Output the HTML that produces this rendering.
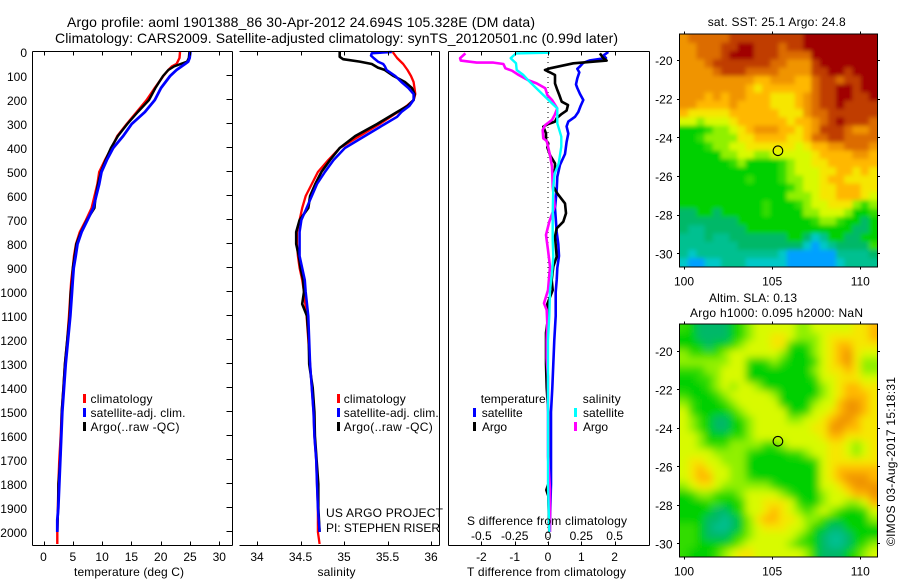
<!DOCTYPE html>
<html>
<head>
<meta charset="utf-8">
<title>Argo profile 1901388_86</title>
<style>
html,body{margin:0;padding:0;background:#fff}
svg{display:block}
text{font-family:"Liberation Sans",sans-serif;font-size:12px;fill:#000}
.title{font-size:14px}
</style>
</head>
<body>
<svg id="chart" xmlns="http://www.w3.org/2000/svg" width="900" height="580" viewBox="0 0 900 580">
<defs>
<clipPath id="clip-sst"><rect x="680" y="34.5" width="197" height="232"/></clipPath>
<clipPath id="clip-sla"><rect x="680" y="324.5" width="197" height="232"/></clipPath>
<filter id="blur-sst" filterUnits="userSpaceOnUse" x="650" y="0" width="250" height="300"><feGaussianBlur stdDeviation="2.2"/></filter>
<filter id="blur-sla" filterUnits="userSpaceOnUse" x="650" y="290" width="250" height="290"><feGaussianBlur stdDeviation="4"/></filter>
</defs>
<rect x="0" y="0" width="900" height="580" fill="#fff"/>
<g id="layer-maps"></g>
<g id="layer-lines"></g>
<g id="layer-axes"></g>

<text class="title" x="67" y="27" textLength="468">Argo profile: aoml 1901388_86 30-Apr-2012 24.694S 105.328E (DM data)</text>
<text class="title" x="55" y="43" textLength="563">Climatology: CARS2009. Satellite-adjusted climatology: synTS_20120501.nc (0.99d later)</text>

<text x="74" y="576" textLength="110">temperature (deg C)</text>
<text x="317.5" y="576" textLength="38">salinity</text>
<text x="467" y="576" textLength="159">T difference from climatology</text>
<text x="467" y="525" textLength="160">S difference from climatology</text>

<g>
<rect x="83" y="394" width="3" height="9" fill="#f00"/>
<text x="90.5" y="403" textLength="62">climatology</text>
<rect x="83" y="408" width="3" height="9" fill="#00f"/>
<text x="90.5" y="417" textLength="95">satellite-adj. clim.</text>
<rect x="83" y="422" width="3" height="9" fill="#000"/>
<text x="90.5" y="431" textLength="89">Argo(..raw -QC)</text>
</g>

<g>
<rect x="337" y="394" width="3" height="9" fill="#f00"/>
<text x="343.7" y="403" textLength="62">climatology</text>
<rect x="337" y="408" width="3" height="9" fill="#00f"/>
<text x="343.7" y="417" textLength="95">satellite-adj. clim.</text>
<rect x="337" y="422" width="3" height="9" fill="#000"/>
<text x="343.7" y="431" textLength="89">Argo(..raw -QC)</text>
</g>

<text x="326" y="517" textLength="117">US ARGO PROJECT</text>
<text x="326" y="532" textLength="114">PI: STEPHEN RISER</text>

<g>
<text x="480.7" y="403" textLength="65">temperature</text>
<rect x="473" y="408" width="3" height="9" fill="#00f"/>
<text x="481.7" y="417" textLength="41">satellite</text>
<rect x="473" y="422" width="3" height="9" fill="#000"/>
<text x="482" y="431" textLength="25">Argo</text>
<text x="582.7" y="403" textLength="38">salinity</text>
<rect x="574" y="408" width="3" height="9" fill="#0ff"/>
<text x="583" y="417" textLength="41">satellite</text>
<rect x="574" y="422" width="3" height="9" fill="#f0f"/>
<text x="583" y="431" textLength="25">Argo</text>
</g>

<text x="707.7" y="26" textLength="138">sat. SST: 25.1 Argo: 24.8</text>
<text x="709" y="302" textLength="88">Altim. SLA: 0.13</text>
<text x="690" y="317" textLength="173">Argo h1000: 0.095 h2000: NaN</text>
<text transform="rotate(-90 895 546)" x="895" y="546" textLength="169">©IMOS 03-Aug-2017 15:18:31</text>
</svg>

<script>
/* ---------- shared depth ticks ---------- */
const depthTicks = [0,100,200,300,400,500,600,700,800,900,1000,1100,1200,1300,1400,1500,1600,1700,1800,1900,2000];
const tempTicks = [0,5,10,15,20,25,30];
const salTicks = [34,34.5,35,35.5,36];
const salTickLabels = ['34','34.5','35','35.5','36'];
const tDiffTicks = [-2,-1,0,1,2];
const sDiffTicks = [-0.5,-0.25,0,0.25,0.5];
const sDiffTickLabels = ['-0.5','-0.25','0','0.25','0.5'];
const mapLonTicks = [100,105,110];
const mapLatTicks = [-20,-22,-24,-26,-28,-30];

/* ---------- temperature profiles ---------- */
const tempClimDepth = [0,25,50,60,75,100,150,200,250,300,350,400,450,500,550,600,650,700,750,800,850,900,950,1000,1100,1200,1300,1400,1500,1600,1700,1800,1900,2000,2050];
const tempClim = [23.3,23.2,22.7,21.9,21.3,20.45,19.0,17.6,15.9,14.2,12.6,11.6,10.5,9.5,9.2,8.7,8.2,7.25,6.2,5.55,5.2,5.0,4.75,4.6,4.35,4.05,3.65,3.4,3.1,2.93,2.7,2.55,2.45,2.36,2.36];
const tempSatDepth = [0,25,40,50,75,100,150,200,250,300,350,400,450,500,550,600,650,700,750,800,850,900,950,1000,1100,1200,1300,1400,1500,1600,1700,1800,1900,1950,2000];
const tempSat = [25.06,24.94,24.7,24.15,22.7,21.6,20.05,19.0,17.3,15.05,13.6,11.9,10.8,9.9,9.5,9.0,8.5,7.5,6.5,5.8,5.5,5.15,5.0,4.86,4.58,4.18,3.78,3.5,3.2,3.04,2.87,2.7,2.53,2.36,2.36];
const tempArgoDepth = [0,25,40,50,60,75,100,150,200,250,300,350,400,450,500,550,600,650,700,750,800,850,900,950,1000,1100,1200,1300,1400,1500,1600,1700,1800,1900,2000];
const tempArgo = [24.9,24.8,24.5,23.4,22.3,21.3,20.4,19.1,18.0,16.1,14.3,12.7,11.5,10.6,9.8,9.3,8.9,8.7,7.4,6.4,5.6,5.3,5.0,4.9,4.65,4.45,4.05,3.65,3.4,3.1,3.0,2.85,2.55,2.5,2.36];

/* ---------- salinity profiles ---------- */
const salClimDepth = [0,25,50,75,100,125,150,175,200,225,250,300,350,400,450,500,550,600,650,700,750,800,850,900,950,1000,1100,1200,1300,1400,1500,1600,1700,1800,1900,2000,2050];
const salClim = [35.56,35.61,35.68,35.73,35.77,35.80,35.81,35.82,35.80,35.72,35.62,35.41,35.18,34.95,34.82,34.70,34.63,34.56,34.52,34.49,34.46,34.46,34.47,34.49,34.52,34.54,34.57,34.59,34.61,34.63,34.65,34.66,34.68,34.69,34.70,34.70,34.72];
const salSatDepth = [0,5,15,25,40,50,60,75,100,125,150,175,200,225,250,270,300,350,400,450,500,550,600,650,700,750,800,850,900,950,1000,1100,1200,1300,1400,1500,1600,1700,1800,1900,2000];
const salSat = [35.55,35.32,35.31,35.34,35.39,35.45,35.47,35.49,35.59,35.66,35.74,35.80,35.80,35.75,35.66,35.61,35.47,35.24,35.01,34.88,34.78,34.69,34.63,34.57,34.51,34.49,34.49,34.49,34.52,34.55,34.56,34.59,34.60,34.61,34.63,34.65,34.66,34.68,34.69,34.70,34.72];
const salArgoDepth = [0,20,30,40,50,65,75,100,125,150,175,200,225,250,300,350,400,450,500,550,600,650,700,750,800,850,900,950,1000,1050,1100,1200,1300,1400,1500,1600,1700,1800,1900,2000];
const salArgo = [34.95,34.95,34.99,35.18,35.32,35.39,35.47,35.57,35.70,35.78,35.81,35.80,35.73,35.61,35.38,35.13,34.95,34.84,34.74,34.67,34.61,34.59,34.49,34.45,34.45,34.48,34.50,34.53,34.54,34.52,34.575,34.595,34.60,34.64,34.66,34.665,34.685,34.705,34.705,34.72];

/* ---------- difference profiles ---------- */
const dTSatDepth = [0,15,25,35,45,60,70,85,110,135,150,175,200,225,250,270,290,310,340,375,425,470,520,575,650,750,800,850,900,950,1000,1100,1200,1300,1400,1500,1600,1700,1800,1900,2000];
const dTSat = [1.81,1.66,1.74,1.26,1.06,0.96,0.88,0.94,0.88,0.84,0.88,0.96,1.06,0.98,0.91,0.81,0.61,0.56,0.61,0.56,0.51,0.36,0.28,0.26,0.21,0.26,0.31,0.33,0.28,0.26,0.23,0.23,0.19,0.16,0.13,0.09,0.09,0.09,0.09,0.07,0.05];
const dTArgoDepth = [6,26,36,47,68,75,85,96,131,158,179,207,221,244,258,276,290,300,311,339,367,381,397,429,464,485,519,561,589,631,672,707,735,769,853,894,950,992,1050,1100,1170,1300,1400,1500,1800,1825,1850,2000];
const dTArgo = [1.56,1.66,1.76,0.76,0.06,-0.09,0.06,0.21,0.21,0.28,0.34,0.41,0.6,0.56,0.41,0.26,0.21,0.01,-0.14,-0.06,-0.06,0.01,-0.02,0.06,0.21,0.21,0.16,0.16,0.28,0.51,0.54,0.46,0.26,0.21,0.26,0.16,0.11,0.14,-0.02,0.01,-0.06,-0.06,-0.04,0.01,0.01,-0.05,0.01,0.04];
const dSArgoDepth = [6,26,36,44,44,50,68,78,96,117,131,151,179,200,235,262,283,304,325,360,371,394,429,478,561,644,707,762,825,894,992,1047,1075,1131,1200,1277,1353,1408,1686,1825,2000];
const dSArgo = [-0.62,-0.66,-0.655,-0.535,-0.41,-0.335,-0.32,-0.27,-0.22,-0.15,-0.085,-0.02,-0.005,0.03,0.07,0.05,0.03,-0.02,-0.04,-0.035,-0.01,0,0.015,0.03,0.035,0.05,0.01,-0.015,0,0.015,0,-0.03,-0.01,-0.005,-0.01,-0.01,0,0,0,0.015,0.015];
const dSSatDepth = [3,6,26,47,75,96,117,144,179,214,235,297,353,394,464,506,561,672,783,853,922,992,1100,1200,1400,1600,1800,2000];
const dSSat = [0.015,-0.24,-0.28,-0.24,-0.235,-0.185,-0.15,-0.1,-0.035,0.03,0.07,0.07,0.10,0.10,0.08,0.05,0.04,0.035,0.035,0.04,0.03,0.015,0.01,0,0,0,0,0.01];

/* ---------- maps: colour level per cell, north to south, west to east ---------- */
const sstGrid = [
[3,2,2,2,2,2,1,1,1,1,1,1,1,1,1,0,0,0,0,0,0,0,0,0],
[3,3,2,2,2,1,1,0,0,1,1,1,2,1,1,0,0,0,0,0,0,0,0,0],
[3,3,2,2,2,1,0,0,0,1,1,1,2,2,2,2,0,0,0,0,0,0,0,0],
[3,3,3,2,1,1,1,1,1,1,1,2,2,3,3,3,1,0,0,0,0,0,0,0],
[3,3,3,3,2,1,1,1,2,2,2,2,3,3,3,3,1,1,0,0,1,0,0,0],
[3,3,3,3,3,3,3,3,3,4,4,3,3,3,4,4,2,1,1,2,1,1,0,0],
[3,3,3,3,3,3,3,3,4,5,4,4,4,4,4,4,2,1,1,0,0,1,0,0],
[3,3,3,4,3,4,3,3,4,4,4,5,5,5,4,3,2,1,1,0,0,1,1,0],
[3,3,4,4,4,4,3,4,4,4,4,5,5,5,4,3,2,1,1,0,1,1,1,1],
[4,5,5,5,5,5,4,4,4,4,4,4,5,5,5,3,2,2,1,1,1,1,1,1],
[6,6,7,6,6,6,5,4,4,4,4,4,4,5,4,4,3,2,1,0,1,1,1,2],
[9,9,9,8,7,7,6,5,4,3,3,3,4,4,5,4,3,1,1,1,2,3,3,2],
[9,9,8,7,7,7,7,5,5,4,4,4,4,5,5,4,2,2,1,1,2,2,2,2],
[9,9,9,8,7,7,6,6,5,5,5,5,5,5,6,5,4,4,3,3,2,2,2,3],
[9,9,9,9,9,7,7,6,6,7,7,6,6,6,6,6,5,4,4,4,4,3,3,4],
[9,9,9,9,9,9,8,7,9,9,9,9,8,7,6,6,5,5,4,4,4,4,4,4],
[9,9,9,9,9,9,9,9,9,9,9,9,8,7,6,6,6,5,5,4,4,5,4,5],
[9,9,9,9,9,9,9,9,8,9,9,9,8,7,7,6,6,5,4,4,5,5,5,5],
[9,9,9,9,9,9,9,9,9,9,9,9,9,8,7,6,6,5,5,4,4,4,5,5],
[9,9,9,9,9,9,9,9,9,9,9,9,9,7,7,7,6,5,5,4,4,4,5,6],
[9,9,9,9,9,9,9,9,9,9,8,9,9,9,8,7,6,6,5,5,5,7,8,7],
[10,10,9,9,10,9,9,9,9,9,8,9,9,9,9,7,7,6,6,6,7,9,9,8],
[10,10,10,10,10,10,10,9,9,9,9,9,9,9,9,9,8,7,7,8,9,9,10,9],
[10,11,11,10,10,10,10,10,9,9,9,9,9,9,9,9,9,9,9,9,9,10,10,9],
[11,11,11,10,11,11,10,10,10,10,10,10,10,9,9,10,12,11,9,9,10,10,9,9],
[11,11,11,11,11,11,11,10,10,10,10,10,10,10,10,12,13,12,11,10,10,10,10,8],
[11,12,11,11,11,11,11,11,11,11,11,11,12,13,13,13,13,13,13,11,11,11,11,10],
[12,13,13,12,12,11,11,11,12,12,12,12,12,13,13,13,13,13,13,12,11,11,11,11]
];
const slaGrid = [
[8,9,10,10,10,10,9,8,7,6,6,6,6,6,7,7,6,6,6,6,6,5,5,4],
[9,9,10,10,10,10,9,8,7,6,6,5,5,6,7,7,7,6,5,5,5,5,5,4],
[9,9,9,10,9,9,8,7,6,6,6,5,5,8,9,8,7,6,5,4,4,5,5,5],
[7,8,8,8,8,7,6,6,6,6,6,6,7,9,9,9,7,6,5,4,3,5,6,6],
[7,7,7,7,7,7,6,6,8,9,8,7,8,9,9,9,8,6,5,4,3,5,7,7],
[8,8,8,7,7,6,6,6,9,9,9,9,9,9,9,9,7,6,5,5,4,5,7,7],
[9,9,8,8,7,6,6,6,9,9,9,9,9,9,9,9,8,6,6,5,5,5,6,6],
[9,9,9,8,7,6,7,6,6,7,9,9,9,9,9,9,9,7,6,5,4,4,5,5],
[8,9,9,9,8,7,6,6,6,6,6,7,9,9,9,9,9,7,6,5,4,4,4,5],
[7,8,9,9,9,8,7,6,6,6,6,6,9,9,9,9,7,6,6,4,3,3,4,5],
[6,8,9,9,9,9,8,7,6,6,6,6,6,9,9,8,6,6,5,4,3,3,4,5],
[6,7,8,9,10,10,9,8,7,6,6,6,6,7,7,6,6,5,4,3,3,4,5,5],
[6,7,8,9,10,10,9,9,7,6,6,6,6,6,6,6,5,5,3,3,4,4,5,5],
[6,6,7,9,9,9,8,8,7,6,6,6,6,6,6,6,6,5,4,4,5,5,5,5],
[6,6,7,8,8,8,7,7,7,7,8,8,7,6,6,6,6,6,5,5,6,7,6,5],
[6,6,6,6,7,7,7,7,8,9,9,9,9,8,8,7,6,6,5,5,6,7,6,5],
[6,5,5,6,6,7,7,7,9,9,9,9,9,9,9,9,8,6,5,5,5,5,5,5],
[6,5,4,5,6,6,7,7,9,9,9,9,9,9,9,9,9,6,5,4,4,4,4,4],
[6,5,4,4,6,6,7,7,8,9,9,9,9,9,9,9,9,6,5,4,3,3,3,4],
[7,6,5,5,6,7,7,7,7,7,7,8,9,9,9,9,9,6,6,5,4,3,3,3],
[9,8,7,7,8,8,8,7,6,6,6,6,7,8,9,9,9,7,6,6,5,4,4,3],
[9,9,9,8,8,9,9,8,6,6,5,5,5,6,8,9,9,7,6,6,7,7,6,4],
[9,9,9,9,10,10,9,8,6,6,5,4,5,6,7,8,7,6,7,8,9,9,8,6],
[9,9,9,10,10,11,10,9,7,5,4,4,5,5,6,7,7,8,9,9,9,9,9,7],
[8,8,9,10,11,11,10,9,7,6,5,5,5,6,6,7,9,9,10,10,9,9,9,9],
[8,8,9,10,10,10,9,8,7,6,6,6,6,6,7,8,9,10,11,11,10,9,9,9],
[8,8,9,9,9,9,8,7,6,6,6,6,6,7,8,8,9,10,11,11,10,9,8,7],
[8,9,9,9,8,7,6,5,5,6,6,6,6,6,6,7,9,10,10,10,9,8,7,6]
];
const levelColors = ['#a00000','#c03c00','#dc6c00','#f09400','#ffb800','#f6e600','#d8fa00','#90f000','#30dc00','#00d000','#00b868','#00c090','#00c8c8','#00a0ff'];
const floatLon = 105.328;
const floatLat = -24.694;

/* ---------- axis functions ---------- */
const yDepth = d => 52 + d * 0.24;
const xTemp = t => 43.5 + t * 5.86;
const xSal = s => 257 + (s - 34) * 87;
const xDT = t => 548 + t * 33.3;
const xDS = s => 548 + s * 133.2;
const xMapLon = lon => 684 + (lon - 100) * 17.63;
const ySstLat = lat => 60 + (-20 - lat) * 19.33;
const ySlaLat = lat => 351 + (-20 - lat) * 19.23;

const NS = 'http://www.w3.org/2000/svg';
const maps = document.getElementById('layer-maps');
const lines = document.getElementById('layer-lines');
const axes = document.getElementById('layer-axes');

function mk(tag, props, parent) {
  const el = document.createElementNS(NS, tag);
  for (const k in props) el.setAttribute(k, props[k]);
  parent.appendChild(el);
  return el;
}

function drawProfile(name, depths, values, xFn, color, width) {
  const pts = depths.map((d, i) => xFn(values[i]).toFixed(1) + ',' + yDepth(d).toFixed(1)).join(' ');
  const line = mk('polyline', {points: pts, fill: 'none', stroke: color, 'stroke-width': width, 'stroke-linejoin': 'round'}, lines);
  
  
}

function drawSegment(name, x1, y1, x2, y2, parent) {
  const seg = mk('line', {x1: x1, y1: y1, x2: x2, y2: y2, stroke: '#000', 'stroke-width': 1, 'shape-rendering': 'crispEdges'}, parent);
  
  
  return seg;
}

function drawLabel(name, x, y, anchor, str) {
  const t = mk('text', {x: x, y: y, 'text-anchor': anchor}, axes);
  
  
  t.textContent = str;
}

/* ---------- zero line and profiles ---------- */
const zeroLine = mk('line', {x1: xDT(0), y1: yDepth(0), x2: xDT(0), y2: yDepth(2050), stroke: '#000', 'stroke-width': 1, 'stroke-dasharray': '1 4', 'shape-rendering': 'crispEdges'}, lines);



drawProfile('temperature-climatology-line', tempClimDepth, tempClim, xTemp, '#f00', 2.4);
drawProfile('temperature-argo-line', tempArgoDepth, tempArgo, xTemp, '#000', 2.4);
drawProfile('temperature-satellite-line', tempSatDepth, tempSat, xTemp, '#00f', 2.8);
drawProfile('salinity-climatology-line', salClimDepth, salClim, xSal, '#f00', 2.3);
drawProfile('salinity-argo-line', salArgoDepth, salArgo, xSal, '#000', 2.6);
drawProfile('salinity-satellite-line', salSatDepth, salSat, xSal, '#00f', 2.5);
drawProfile('t-difference-satellite-line', dTSatDepth, dTSat, xDT, '#00f', 2.6);
drawProfile('t-difference-argo-line', dTArgoDepth, dTArgo, xDT, '#000', 2.6);
drawProfile('s-difference-argo-line', dSArgoDepth, dSArgo, xDS, '#f0f', 2.6);
drawProfile('s-difference-satellite-line', dSSatDepth, dSSat, xDS, '#0ff', 2.4);

/* ---------- profile panel frames and ticks ---------- */
const T = 51.5, B = 545.5;
drawSegment('temperature-panel-top', 32.5, T, 232.5, T, axes);
drawSegment('temperature-panel-bottom', 32.5, B, 232.5, B, axes);
drawSegment('temperature-panel-left', 32.5, T, 32.5, B, axes);
drawSegment('temperature-panel-right', 232.5, T, 232.5, B, axes);
drawSegment('salinity-panel-top', 239.5, T, 439.5, T, axes);
drawSegment('salinity-panel-bottom', 239.5, B, 439.5, B, axes);
drawSegment('salinity-panel-right', 439.5, T, 439.5, B, axes);
drawSegment('difference-panel-top', 448.5, T, 649.5, T, axes);
drawSegment('difference-panel-bottom', 448.5, B, 649.5, B, axes);
drawSegment('difference-panel-left', 448.5, T, 448.5, B, axes);
drawSegment('difference-panel-right', 649.5, T, 649.5, B, axes);

depthTicks.forEach(d => {
  const y = Math.round(yDepth(d)) + 0.5;
  drawSegment('depth-tick', 226.5, y - 1 < T ? T : y - 1, 232.5, y - 1 < T ? T : y - 1, axes);
  drawLabel('depth-tick-label', 27, yDepth(d) + 5, 'end', String(d));
});
tempTicks.forEach(t => {
  const x = Math.round(xTemp(t)) + 0.5;
  drawSegment('temperature-tick-top', x, T, x, T + 4, axes);
  drawSegment('temperature-tick-bottom', x, B - 4, x, B, axes);
  drawLabel('temperature-tick-label', xTemp(t), 561, 'middle', String(t));
});
salTicks.forEach((s, i) => {
  const x = Math.round(xSal(s)) + 0.5;
  drawSegment('salinity-tick-top', x, T, x, T + 4, axes);
  drawSegment('salinity-tick-bottom', x, B - 4, x, B, axes);
  drawLabel('salinity-tick-label', xSal(s), 561, 'middle', salTickLabels[i]);
});
tDiffTicks.forEach(t => {
  const x = Math.round(xDT(t)) + 0.5;
  drawSegment('t-difference-tick-top', x, T, x, T + 4, axes);
  drawSegment('t-difference-tick-bottom', x, B - 4, x, B, axes);
  drawLabel('t-difference-tick-label', xDT(t), 561, 'middle', String(t));
});
sDiffTicks.forEach((s, i) => {
  drawLabel('s-difference-tick-label', xDS(s), 540, 'middle', sDiffTickLabels[i]);
});

/* ---------- maps ---------- */
function drawMap(prefix, grid, yLat, left, right, top, bottom) {
  const rows = grid.length;
  const cols = grid[0].length;
  const lonW = (right - left) / 17.63 / cols;
  const lon0 = 100 + (left - 684) / 17.63;
  const h = (bottom - top) / rows;
  const clip = mk('g', {'clip-path': 'url(#clip-' + prefix + ')'}, maps);
  
  
  const field = mk('g', {filter: 'url(#blur-' + prefix + ')'}, clip);
  
  
  const bleed = 14; /* edge cells run past the clip so the blur stays opaque at the frame */
  grid.forEach((row, r) => {
    row.forEach((level, c) => {
      const x0 = xMapLon(lon0 + c * lonW) - (c === 0 ? bleed : 0);
      const x1 = xMapLon(lon0 + (c + 1) * lonW) + (c === cols - 1 ? bleed : 0);
      const y0 = top + r * h - (r === 0 ? bleed : 0);
      const y1 = top + (r + 1) * h + (r === rows - 1 ? bleed : 0);
      const cell = mk('rect', {x: x0.toFixed(1), y: y0.toFixed(1), width: (x1 - x0 + 0.4).toFixed(1), height: (y1 - y0 + 0.4).toFixed(1), fill: levelColors[level]}, field);
      
      
    });
  });
  const frame = mk('rect', {x: left - 0.5, y: top - 0.5, width: right - left + 1, height: bottom - top + 1, fill: 'none', stroke: '#000', 'stroke-width': 1, 'shape-rendering': 'crispEdges'}, axes);
  
  
  mapLonTicks.forEach(lon => {
    const x = Math.round(xMapLon(lon)) + 0.5;
    drawSegment(prefix + '-lon-tick-top', x, top - 3, x, top, axes);
    drawSegment(prefix + '-lon-tick-bottom', x, bottom, x, bottom + 3, axes);
    drawLabel(prefix + '-lon-tick-label', xMapLon(lon), bottom + 19, 'middle', String(lon));
  });
  mapLatTicks.forEach(lat => {
    const y = Math.round(yLat(lat)) + 0.5;
    drawSegment(prefix + '-lat-tick-left', left - 3, y, left, y, axes);
    drawSegment(prefix + '-lat-tick-right', right, y, right + 3, y, axes);
    drawLabel(prefix + '-lat-tick-label', 672.5, yLat(lat) + 5, 'end', String(lat));
  });
  const marker = mk('circle', {cx: xMapLon(floatLon), cy: yLat(floatLat), r: 4.8, fill: 'none', stroke: '#000', 'stroke-width': 1.1}, axes);
  
  
}
drawMap('sst', sstGrid, ySstLat, 680, 877, 34.5, 266.5);
drawMap('sla', slaGrid, ySlaLat, 680, 877, 324.5, 556.5);
</script>
</body>
</html>
